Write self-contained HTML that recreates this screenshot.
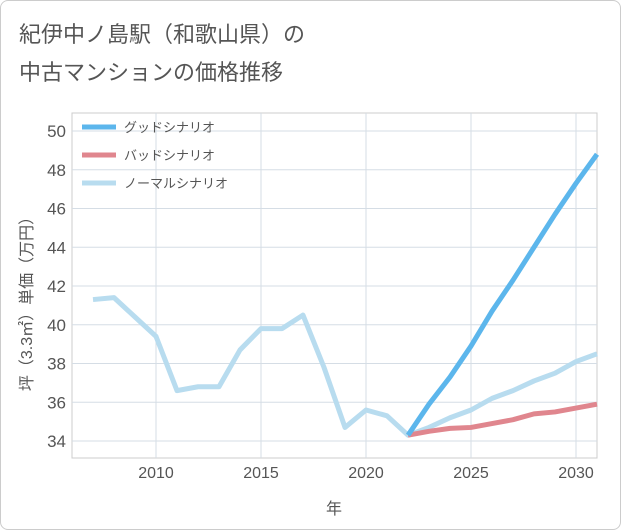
<!DOCTYPE html>
<html><head><meta charset="utf-8"><style>
body{margin:0;background:#fff;}
#wrap{position:relative;width:619px;height:528px;border:1px solid #ccc;border-radius:8px;background:#fff;overflow:hidden;}
.t{position:absolute;left:18px;font-family:"Liberation Sans","Noto Sans CJK JP",sans-serif;font-size:22px;color:#555;}
</style></head><body>
<div id="wrap">
<div class="t" style="top:16px">紀伊中ノ島駅（和歌山県）の</div>
<div class="t" style="top:54px">中古マンションの価格推移</div>
<svg id="c" width="621" height="530" style="position:absolute;left:-1px;top:-1px"></svg>
</div>
<script>
const years=[2007,2008,2009,2010,2011,2012,2013,2014,2015,2016,2017,2018,2019,2020,2021,2022,2023,2024,2025,2026,2027,2028,2029,2030,2031];
const normalVals=[41.3,41.4,40.4,39.4,36.6,36.8,36.8,38.7,39.8,39.8,40.5,37.8,34.7,35.6,35.3,34.3,34.7,35.2,35.6,36.2,36.6,37.1,37.5,38.1,38.5];
const futureYears=[2022,2023,2024,2025,2026,2027,2028,2029,2030,2031];
const goodVals=[34.3,35.9,37.3,38.9,40.7,42.3,44.0,45.7,47.3,48.8];
const badVals=[34.3,34.5,34.65,34.7,34.9,35.1,35.4,35.5,35.7,35.9];
const yTicks=[34,36,38,40,42,44,46,48,50];
const xTicks=[2010,2015,2020,2025,2030];
const legendLabels=["グッドシナリオ","バッドシナリオ","ノーマルシナリオ"];
const NS="http://www.w3.org/2000/svg";
const svg=document.getElementById('c');
const L=72,R=597,T=113,B=458;
const x=v=>156+(v-2010)*21;
const y=v=>441-(v-34)*19.375;
function el(tag,attrs,parent){const e=document.createElementNS(NS,tag);for(const k in attrs)e.setAttribute(k,attrs[k]);(parent||svg).appendChild(e);return e;}
const bg=el('rect',{x:L,y:T,width:R-L,height:B-T,fill:'#fff',stroke:'#ccc'});


yTicks.forEach(v=>{
 const g=el('line',{x1:L,x2:R,y1:y(v),y2:y(v),stroke:'#d5dde5'});
 
 
 const t=el('text',{x:L-6,y:y(v)+6,'text-anchor':'end','font-size':17,fill:'#555','font-family':'Liberation Sans, sans-serif'});
 t.textContent=v;
 
 
});
xTicks.forEach(v=>{
 const g=el('line',{x1:x(v),x2:x(v),y1:T,y2:B,stroke:'#d5dde5'});
 
 
 const t=el('text',{x:x(v),y:B+20,'text-anchor':'middle','font-size':16,fill:'#555','font-family':'Liberation Sans, sans-serif'});
 t.textContent=v;
 
 
});
const xt=el('text',{x:334,y:514,'text-anchor':'middle','font-size':16,fill:'#555','font-family':'Liberation Sans, Noto Sans CJK JP, sans-serif'});
xt.textContent='年';


const yt=el('text',{x:0,y:0,transform:'translate(32,300) rotate(-90)','text-anchor':'middle','font-size':16,fill:'#555','font-family':'Liberation Sans, Noto Sans CJK JP, sans-serif'});
yt.textContent='坪（3.3㎡）単価（万円）';


function line(xs,vs,color,name){
 const p=el('polyline',{points:xs.map((v,i)=>x(v)+','+y(vs[i])).join(' '),fill:'none',stroke:color,'stroke-width':5,'stroke-linejoin':'round'});
 
 
}
line(years,normalVals,'#b8dcef','normal-scenario-line');
line(futureYears,badVals,'#e0868e','bad-scenario-line');
line(futureYears,goodVals,'#5cb6ec','good-scenario-line');
const lc=['#5cb6ec','#e0868e','#b8dcef'];
legendLabels.forEach((s,i)=>{
 const ly=127+i*28;
 const m=el('line',{x1:82,x2:116,y1:ly,y2:ly,stroke:lc[i],'stroke-width':5});
 
 
 const t=el('text',{x:124,y:ly+5,'font-size':13,fill:'#555','font-family':'Liberation Sans, Noto Sans CJK JP, sans-serif'});
 t.textContent=s;
 
 
});
</script>
</body></html>
